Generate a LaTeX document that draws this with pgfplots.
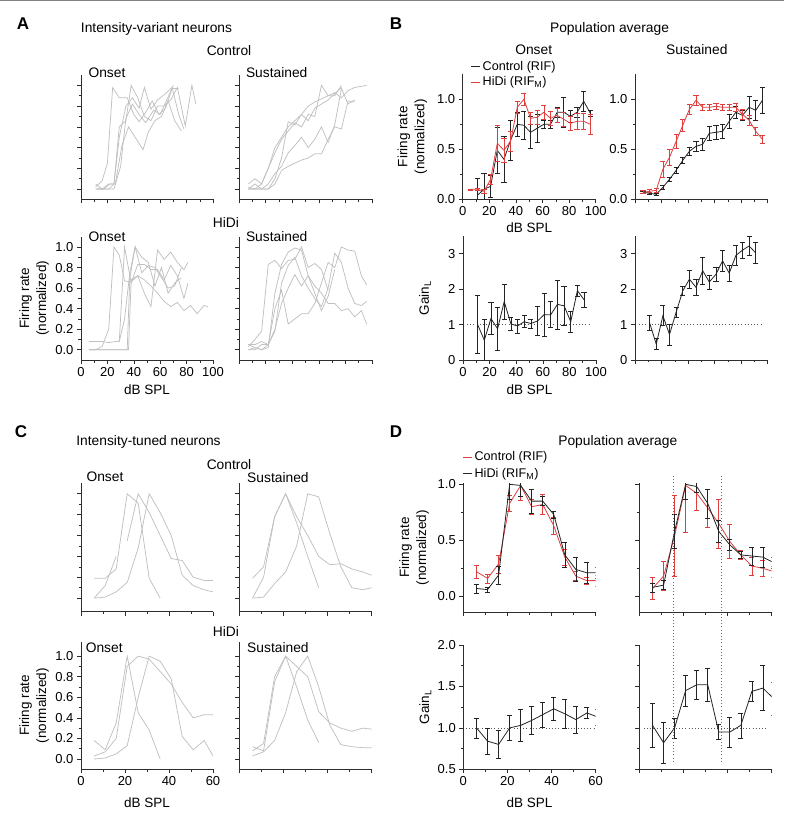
\documentclass[border=0pt]{standalone}
\usepackage{fontspec}
\setmainfont{Liberation Sans}
\usepackage{pgfplots}
\pgfplotsset{compat=1.18}

\definecolor{neuron}{RGB}{192,192,192}
\definecolor{ctrl}{RGB}{35,35,35}
\definecolor{hidi}{RGB}{222,62,62}
\definecolor{axgray}{RGB}{45,45,45}

\newcommand{\ttl}{\fontsize{13.8}{16}\selectfont}

\pgfplotsset{
  panel/.style={
    scale only axis, anchor=north west,
    axis x line*=bottom, axis y line*=left,
    axis line style={line width=0.7pt, axgray, -},
    tick align=outside,
    major tick length=4pt, minor tick length=2.5pt,
    every tick/.style={axgray, line width=0.6pt},
    tick label style={font=\fontsize{13}{13}\selectfont},
    /pgf/number format/assume math mode=true,
    label style={font=\fontsize{13.5}{17}\selectfont},
  },
  onedec/.style={yticklabel style={/pgf/number format/.cd, fixed, fixed zerofill, precision=1}},
  nolab/.style={xticklabels={}, yticklabels={}},
  gr/.style={draw=neuron, line width=0.75pt, mark=none},
  ebar/.style={error bars/.cd, y dir=both, y explicit,
    error bar style={line width=0.6pt, solid},
    error mark options={rotate=90, mark size=2.6pt, line width=0.6pt}},
  refline/.style={axgray!80, line width=0.6pt, dash pattern=on 1pt off 2.2pt, mark=none, forget plot},
  leg/.style={legend style={draw=none, fill=none, inner sep=0pt,
      font=\fontsize{12.6}{14}\selectfont, legend cell align=left},
    legend image code/.code={\draw[##1, line width=0.8pt] (0pt,0pt) -- (9pt,0pt);}},
}

\begin{document}
\begin{tikzpicture}
\useasboundingbox (0,0) rectangle (784pt,-818pt);
\draw[gray, line width=1.2pt] (0,-0.8pt) -- (784pt,-0.8pt);

% ---------------- text ----------------
\node[font=\fontsize{17}{17}\selectfont\bfseries] at (23pt,-24pt) {A};
\node[font=\fontsize{17}{17}\selectfont\bfseries] at (396pt,-24pt) {B};
\node[font=\fontsize{17}{17}\selectfont\bfseries] at (21pt,-432pt) {C};
\node[font=\fontsize{17}{17}\selectfont\bfseries] at (396pt,-432pt) {D};

\node[font=\ttl] at (156.5pt,-29pt) {Intensity-variant neurons};
\node[font=\ttl] at (229pt,-50.7pt) {Control};
\node[font=\ttl, anchor=west] at (85pt,-72.7pt) {Onset};
\node[font=\ttl, anchor=west] at (242.5pt,-72.7pt) {Sustained};
\node[font=\ttl] at (226pt,-222.7pt) {HiDi};
\node[font=\ttl, anchor=west] at (85pt,-236.7pt) {Onset};
\node[font=\ttl, anchor=west] at (242.5pt,-236.7pt) {Sustained};

\node[font=\ttl] at (609.5pt,-29pt) {Population average};
\node[font=\ttl] at (533.7pt,-50pt) {Onset};
\node[font=\ttl] at (696.8pt,-50pt) {Sustained};

\node[font=\ttl] at (148.5pt,-441.7pt) {Intensity-tuned neurons};
\node[font=\ttl] at (229pt,-464.3pt) {Control};
\node[font=\ttl, anchor=west] at (83pt,-476.7pt) {Onset};
\node[font=\ttl, anchor=west] at (243.7pt,-477.7pt) {Sustained};
\node[font=\ttl] at (226pt,-631.7pt) {HiDi};
\node[font=\ttl, anchor=west] at (82.3pt,-647.7pt) {Onset};
\node[font=\ttl, anchor=west] at (243.7pt,-647.7pt) {Sustained};

\node[font=\ttl] at (617.8pt,-441.7pt) {Population average};

% ---------------- A: intensity-variant, control onset ----------------
\begin{axis}[panel, nolab, at={(81pt,-75pt)}, width=132pt, height=124.5pt,
  xmin=0, xmax=100, ymin=-0.1, ymax=1.1,
  xtick={0,20,...,100}, minor x tick num=1,
  ytick={0,0.2,0.4,0.6,0.8,1.0}, minor y tick num=1]
\addplot[gr] coordinates {(11,0.02)(16,0.08)(20,0.25)(24,0.98)(29,0.88)(35,0.88)(40,0.72)(44,0.65)(49,0.74)(54,0.85)(59,0.72)(64,0.78)(69,0.97)(74,0.97)};
\addplot[gr] coordinates {(11,0.0)(16,0.0)(21,0.0)(25,0.05)(29,0.6)(34,0.66)(38,1.0)(43,0.88)(48,0.7)(53,0.66)(58,0.8)(63,0.8)(68,0.86)(73,0.98)(79,0.61)(84,1.0)(87,0.82)};
\addplot[gr] coordinates {(11,0.05)(16,0.0)(21,0.05)(25,0.05)(29,0.5)(34,0.8)(39,0.88)(44,0.78)(48,0.98)(53,0.77)(58,0.86)(64,0.92)(69,0.98)(74,0.72)(78,0.58)};
\addplot[gr] coordinates {(12,0.0)(17,0.0)(22,0.05)(26,0.05)(31,0.42)(36,0.6)(41,0.5)(47,0.38)(51,0.55)(56,0.66)(61,0.7)(66,0.85)(71,0.66)(76,0.56)};
\addplot[gr] coordinates {(11,0.0)(16,0.0)(21,0.0)(25,0.0)(30,0.22)(34,0.68)(39,0.82)(44,0.72)(49,0.64)(55,0.76)(60,0.72)(65,0.86)(70,1.0)};
\end{axis}

% ---------------- A: control sustained ----------------
\begin{axis}[panel, nolab, at={(239pt,-75pt)}, width=133pt, height=124.5pt,
  xmin=0, xmax=100, ymin=-0.1, ymax=1.1,
  xtick={0,20,...,100}, minor x tick num=1,
  ytick={0,0.2,0.4,0.6,0.8,1.0}, minor y tick num=1]
\addplot[gr] coordinates {(7,0.05)(12,0.1)(17,0.05)(22,0.2)(27,0.35)(32,0.48)(37,0.56)(42,0.64)(47,0.6)(52,0.72)(57,0.7)(62,1.0)(67,0.9)(72,0.9)(77,1.0)};
\addplot[gr] coordinates {(7,0.0)(12,0.05)(17,0.0)(22,0.0)(27,0.1)(32,0.3)(37,0.65)(42,0.62)(47,0.72)(52,0.66)(57,0.78)(62,0.82)(67,0.86)(72,0.92)(77,0.98)};
\addplot[gr] coordinates {(7,0.02)(12,0.0)(17,0.05)(22,0.2)(27,0.4)(32,0.5)(37,0.6)(42,0.66)(47,0.72)(52,0.8)(57,0.84)(62,0.87)(67,0.9)(72,0.93)(77,0.88)(82,0.95)(87,0.98)(96,1.0)};
\addplot[gr] coordinates {(7,0.0)(12,0.0)(17,0.0)(22,0.05)(27,0.15)(32,0.22)(37,0.35)(42,0.42)(47,0.5)(52,0.4)(57,0.48)(62,0.6)(67,0.45)(72,0.62)(77,0.97)(82,0.82)(87,0.86)};
\addplot[gr] coordinates {(7,0.0)(12,0.0)(17,0.0)(22,0.0)(27,0.05)(32,0.18)(37,0.22)(42,0.25)(47,0.28)(52,0.3)(57,0.34)(62,0.34)(67,0.48)(72,0.6)(77,0.58)(82,0.85)(87,0.84)};
\end{axis}

% ---------------- A: HiDi onset ----------------
\begin{axis}[panel, onedec, at={(81pt,-236.7pt)}, width=132pt, height=123.3pt,
  xmin=0, xmax=100, ymin=-0.1, ymax=1.1,
  xtick={0,20,...,100}, minor x tick num=1,
  ytick={0,0.2,0.4,0.6,0.8,1.0}, minor y tick num=1,
  xlabel={dB SPL}, ylabel={Firing rate\\(normalized)},
  xlabel style={at={(axis description cs:0.5,-0.243)}, anchor=center},
  ylabel style={align=center, at={(axis description cs:-0.356,0.5)}, anchor=center}]
\addplot[gr] coordinates {(6,0)(11,0)(16,0.03)(21,0.2)(25,1.0)(29,0.92)(33,0.67)(38,0.66)(43,0.72)(48,0.55)(53,0.42)(58,0.97)(63,0.88)(68,0.95)(73,0.85)(78,0.78)(81,0.85)};
\addplot[gr] coordinates {(6,0.08)(11,0.08)(16,0.08)(21,0.07)(26,0.08)(29,0.08)(33,1.0)(38,0.65)(43,0.83)(48,0.83)(53,0.78)(58,0.78)(63,0.68)(68,0.82)(73,0.72)(78,0.5)(81,0.65)};
\addplot[gr] coordinates {(6,0)(11,0)(16,0)(21,0)(26,0)(31,0)(35,0)(37,0.7)(41,1.0)(46,0.75)(51,0.82)(56,0.8)(61,0.7)(66,0.6)(71,0.62)(76,0.8)};
\addplot[gr] coordinates {(6,0)(11,0)(16,0)(21,0)(26,0)(31,0)(36,0)(38,0.68)(43,0.72)(48,0.68)(53,0.62)(58,0.55)(63,0.47)(68,0.42)(73,0.46)(78,0.38)(83,0.43)(88,0.35)(93,0.43)(96,0.42)};
\addplot[gr] coordinates {(29,0.08)(33,0.3)(37,0.75)(41,1.0)(46,0.9)(51,0.85)(56,0.62)(61,0.8)(66,0.55)(71,0.65)(76,0.7)};
\end{axis}

% ---------------- A: HiDi sustained ----------------
\begin{axis}[panel, nolab, at={(239pt,-236.7pt)}, width=133pt, height=123.3pt,
  xmin=0, xmax=100, ymin=-0.1, ymax=1.1,
  xtick={0,20,...,100}, minor x tick num=1,
  ytick={0,0.2,0.4,0.6,0.8,1.0}, minor y tick num=1]
\addplot[gr] coordinates {(7,0.0)(12,0.02)(17,0.0)(22,0.02)(27,0.55)(32,0.83)(37,0.95)(42,0.99)(47,0.97)(52,0.72)(57,0.62)(62,0.55)(67,0.45)(72,0.45)(77,0.38)(82,0.4)(87,0.32)(92,0.38)(96,0.25)};
\addplot[gr] coordinates {(7,0.05)(12,0.05)(17,0.08)(22,0.05)(27,0.18)(32,0.65)(37,0.82)(42,0.9)(47,0.72)(52,0.6)(57,0.5)(62,0.42)(67,0.6)(72,0.94)(77,0.85)(82,0.6)(87,0.45)(92,0.43)(96,0.47)};
\addplot[gr] coordinates {(7,0.03)(12,0.1)(17,0.18)(22,0.83)(27,0.87)(32,0.79)(37,0.87)(42,0.88)(47,1.0)(52,0.8)(57,0.84)(62,0.78)(67,0.58)};
\addplot[gr] coordinates {(7,0.0)(12,0.0)(17,0.05)(22,0.05)(27,0.4)(32,0.58)(37,0.25)(42,0.3)(47,0.35)(52,0.35)(57,0.45)(62,0.65)(67,0.85)(72,0.8)(77,1.0)(82,0.97)(87,0.96)(92,0.72)(96,0.63)};
\addplot[gr] coordinates {(7,0.05)(12,0.02)(17,0.0)(22,0.05)(27,0.2)(32,0.45)(37,0.6)(42,0.73)(47,0.62)(52,0.72)(57,0.55)(62,0.38)(67,0.52)(72,0.78)};
\end{axis}

% ---------------- B: population onset ----------------
\begin{axis}[panel, leg, at={(462.7pt,-74.3pt)}, width=133pt, height=125pt,
  xmin=0, xmax=100, ymin=0, ymax=1.25,
  xtick={0,20,...,100}, minor x tick num=1,
  ytick={0,0.5,1}, minor y tick num=1, onedec,
  xlabel={dB SPL}, ylabel={Firing rate\\(normalized)},
  xlabel style={at={(axis description cs:0.5,-0.224)}, anchor=center},
  ylabel style={align=center, at={(axis description cs:-0.378,0.5)}, anchor=center},
  legend style={at={(axis description cs:0.06,1.12)}, anchor=north west, row sep=0.5pt}]
\addlegendimage{ctrl}
\addlegendentry{Control (RIF)}
\addlegendimage{hidi}
\addlegendentry{HiDi (RIF\textsubscript{M})}
\addplot[ctrl, line width=0.8pt, mark=none, forget plot, ebar] coordinates {
(11,0.04) +- (0,0.17) (16,0.10) +- (0,0.16) (21,0.13) +- (0,0.11) (26,0.49) +- (0,0.23)
(31,0.40) +- (0,0.23) (36,0.59) +- (0,0.20) (41,0.75) +- (0,0.12) (46,0.74) +- (0,0.14)
(51,0.67) +- (0,0.16) (56,0.71) +- (0,0.14) (61,0.75) +- (0,0.04) (66,0.75) +- (0,0.04)
(71,0.87) +- (0,0.05) (76,0.87) +- (0,0.15) (81,0.83) +- (0,0.06) (86,0.87) +- (0,0.05)
(91,0.98) +- (0,0.10) (96,0.86) +- (0,0.03)};
\addplot[hidi, line width=0.8pt, mark=none, forget plot, ebar] coordinates {
(6,0.10) +- (0,0.005) (11,0.10) +- (0,0.01) (16,0.08) +- (0,0.02) (21,0.20) +- (0,0.05)
(26,0.56) +- (0,0.18) (31,0.49) +- (0,0.12) (36,0.58) +- (0,0.10) (41,0.92) +- (0,0.06)
(46,1.00) +- (0,0.06) (51,0.81) +- (0,0.06) (56,0.82) +- (0,0.07) (61,0.87) +- (0,0.07)
(66,0.81) +- (0,0.07) (71,0.84) +- (0,0.07) (76,0.80) +- (0,0.07) (81,0.76) +- (0,0.07)
(86,0.78) +- (0,0.08) (91,0.78) +- (0,0.08) (96,0.75) +- (0,0.10)};
\end{axis}

% ---------------- B: population sustained ----------------
\begin{axis}[panel, at={(635pt,-74.3pt)}, width=132.7pt, height=125pt,
  xmin=0, xmax=100, ymin=0, ymax=1.25,
  xtick={0,20,...,100}, minor x tick num=1, xticklabels={},
  ytick={0,0.5,1}, minor y tick num=1, onedec]
\addplot[ctrl, line width=0.8pt, mark=none, ebar] coordinates {
(6,0.07) +- (0,0.01) (11,0.06) +- (0,0.01) (16,0.05) +- (0,0.01) (21,0.12) +- (0,0.02)
(26,0.20) +- (0,0.02) (31,0.29) +- (0,0.03) (36,0.39) +- (0,0.03) (41,0.48) +- (0,0.04)
(46,0.53) +- (0,0.05) (51,0.55) +- (0,0.06) (56,0.66) +- (0,0.07) (61,0.67) +- (0,0.07)
(66,0.68) +- (0,0.07) (71,0.78) +- (0,0.07) (76,0.87) +- (0,0.06) (81,0.84) +- (0,0.05)
(86,0.92) +- (0,0.11) (91,0.89) +- (0,0.10) (96,0.99) +- (0,0.13)};
\addplot[hidi, line width=0.8pt, mark=none, ebar] coordinates {
(6,0.07) +- (0,0.015) (11,0.08) +- (0,0.015) (16,0.09) +- (0,0.02) (21,0.30) +- (0,0.08)
(26,0.42) +- (0,0.08) (31,0.58) +- (0,0.07) (36,0.74) +- (0,0.06) (41,0.90) +- (0,0.05)
(46,0.99) +- (0,0.05) (51,0.92) +- (0,0.03) (56,0.92) +- (0,0.03) (61,0.93) +- (0,0.03)
(66,0.92) +- (0,0.03) (71,0.92) +- (0,0.03) (76,0.92) +- (0,0.04) (81,0.85) +- (0,0.05)
(86,0.79) +- (0,0.05) (91,0.68) +- (0,0.04) (96,0.60) +- (0,0.04)};
\end{axis}

% ---------------- B: gain onset ----------------
\begin{axis}[panel, at={(463pt,-236pt)}, width=133pt, height=124pt,
  xmin=0, xmax=100, ymin=0, ymax=3.5,
  xtick={0,20,...,100}, minor x tick num=1, ytick={0,1,2,3},
  xlabel={dB SPL}, ylabel={Gain\textsubscript{L}},
  xlabel style={at={(axis description cs:0.5,-0.242)}, anchor=center},
  ylabel style={at={(axis description cs:-0.286,0.5)}, anchor=center}]
\addplot[refline] coordinates {(3,1)(95,1)};
\addplot[ctrl, line width=0.8pt, mark=none, ebar] coordinates {
(11,1.00) +- (0,0.82) (16,0.56) +- (0,0.60) (21,1.17) +- (0,0.45) (26,0.88) +- (0,0.62)
(31,1.65) +- (0,0.50) (36,1.02) +- (0,0.19) (41,0.96) +- (0,0.20) (46,1.08) +- (0,0.17)
(51,1.03) +- (0,0.13) (56,1.10) +- (0,0.41) (61,1.28) +- (0,0.61) (66,1.28) +- (0,0.37)
(71,1.57) +- (0,0.69) (76,1.53) +- (0,0.56) (81,1.08) +- (0,0.30) (86,1.96) +- (0,0.16)
(91,1.70) +- (0,0.22)};
\end{axis}

% ---------------- B: gain sustained ----------------
\begin{axis}[panel, at={(635pt,-236pt)}, width=132.7pt, height=124pt,
  xmin=0, xmax=100, ymin=0, ymax=3.5,
  xtick={0,20,...,100}, minor x tick num=1, xticklabels={}, ytick={0,1,2,3}]
\addplot[refline] coordinates {(3,1)(95,1)};
\addplot[ctrl, line width=0.8pt, mark=none, ebar] coordinates {
(11,1.05) +- (0,0.20) (16,0.45) +- (0,0.15) (21,1.25) +- (0,0.28) (26,0.72) +- (0,0.30)
(31,1.35) +- (0,0.15) (36,1.95) +- (0,0.13) (41,2.28) +- (0,0.25) (46,2.05) +- (0,0.22)
(51,2.52) +- (0,0.38) (56,2.20) +- (0,0.20) (61,2.42) +- (0,0.20) (66,2.80) +- (0,0.30)
(71,2.45) +- (0,0.22) (76,2.95) +- (0,0.28) (81,3.10) +- (0,0.22) (86,3.22) +- (0,0.27)
(91,3.02) +- (0,0.30)};
\end{axis}

% ---------------- C: intensity-tuned, control onset ----------------
\begin{axis}[panel, nolab, at={(81pt,-483.3pt)}, width=132pt, height=128.4pt,
  xmin=0, xmax=60, ymin=-0.13, ymax=1.1,
  xtick={0,20,40,60}, minor x tick num=1,
  ytick={0,0.2,0.4,0.6,0.8,1.0}, minor y tick num=1]
\addplot[gr] coordinates {(6,0.19)(11,0.19)(16,0.28)(21,1.0)(26,0.91)(31,0.19)(36,0.0)};
\addplot[gr] coordinates {(6,0.0)(11,0.12)(16,0.4)};
\addplot[gr] coordinates {(6,0.0)(11,0.01)(16,0.06)(21,0.15)(26,0.48)(31,1.0)(36,0.82)(41,0.6)(46,0.22)(51,0.12)(56,0.08)(60,0.06)};
\addplot[gr] coordinates {(21,0.55)(26,1.0)(31,0.82)(36,0.6)(41,0.38)(46,0.36)(51,0.2)(56,0.17)(60,0.17)};
\end{axis}

% ---------------- C: control sustained ----------------
\begin{axis}[panel, nolab, at={(239.3pt,-483.3pt)}, width=132.4pt, height=128.4pt,
  xmin=0, xmax=60, ymin=-0.13, ymax=1.1,
  xtick={0,20,40,60}, minor x tick num=1,
  ytick={0,0.2,0.4,0.6,0.8,1.0}, minor y tick num=1]
\addplot[gr] coordinates {(6,0.19)(11,0.3)(16,0.78)(21,1.0)(26,0.78)(31,0.6)(36,0.4)(41,0.32)(46,0.33)(51,0.28)(56,0.25)(60,0.22)};
\addplot[gr] coordinates {(6,0.0)(11,0.01)(16,0.14)(21,0.25)(26,0.5)(31,1.0)(36,0.97)(41,0.62)(46,0.3)(51,0.1)(56,0.08)(60,0.1)};
\addplot[gr] coordinates {(6,0.0)(11,0.2)(16,0.78)(21,1.0)(26,0.72)(31,0.4)(36,0.1)};
\end{axis}

% ---------------- C: HiDi onset ----------------
\begin{axis}[panel, onedec, at={(81pt,-641.7pt)}, width=132pt, height=127.6pt,
  xmin=0, xmax=60, ymin=-0.1, ymax=1.14,
  xtick={0,20,40,60}, minor x tick num=1,
  ytick={0,0.2,0.4,0.6,0.8,1.0}, minor y tick num=1,
  xlabel={dB SPL}, ylabel={Firing rate\\(normalized)},
  xlabel style={at={(axis description cs:0.5,-0.262)}, anchor=center},
  ylabel style={align=center, at={(axis description cs:-0.356,0.5)}, anchor=center}]
\addplot[gr] coordinates {(6,0.18)(11,0.09)(16,0.35)(21,1.0)(26,0.45)(31,0.28)(36,0.0)};
\addplot[gr] coordinates {(6,0.03)(11,0.07)(16,0.2)(21,0.9)(26,1.0)(31,0.97)(36,0.85)(41,0.73)(46,0.55)(51,0.4)(56,0.43)(60,0.43)};
\addplot[gr] coordinates {(6,0.0)(11,0.01)(16,0.05)(21,0.13)(26,0.6)(31,1.0)(36,0.95)(41,0.78)(46,0.22)(51,0.09)(56,0.18)(60,0.03)};
\end{axis}

% ---------------- C: HiDi sustained ----------------
\begin{axis}[panel, nolab, at={(239.3pt,-641.7pt)}, width=132.4pt, height=127.6pt,
  xmin=0, xmax=60, ymin=-0.1, ymax=1.14,
  xtick={0,20,40,60}, minor x tick num=1,
  ytick={0,0.2,0.4,0.6,0.8,1.0}, minor y tick num=1]
\addplot[gr] coordinates {(6,0.12)(11,0.08)(16,0.75)(21,1.0)(26,0.9)(31,0.8)(36,0.46)(41,0.35)(46,0.3)(51,0.27)(56,0.3)(60,0.29)};
\addplot[gr] coordinates {(6,0.08)(11,0.15)(16,0.8)(21,1.0)(26,0.7)(31,0.38)(36,0.16)};
\addplot[gr] coordinates {(6,0.03)(11,0.07)(16,0.18)(21,0.45)(26,0.85)(31,1.0)(36,0.7)(41,0.33)(46,0.14)(51,0.12)(56,0.11)(60,0.11)};
\end{axis}

% ---------------- D: population onset ----------------
\begin{axis}[panel, leg, at={(463.3pt,-483.2pt)}, width=132.4pt, height=128.8pt,
  xmin=0, xmax=60, ymin=-0.14, ymax=1.01,
  xtick={0,20,40,60}, minor x tick num=1, xticklabels={},
  ytick={0,0.5,1}, minor y tick num=1, onedec,
  ylabel={Firing rate\\(normalized)},
  ylabel style={align=center, at={(axis description cs:-0.372,0.5)}, anchor=center},
  legend style={at={(axis description cs:-0.005,1.262)}, anchor=north west, row sep=2pt}]
\addlegendimage{hidi}
\addlegendentry{Control (RIF)}
\addlegendimage{ctrl}
\addlegendentry{HiDi (RIF\textsubscript{M})}
\addplot[hidi, line width=0.8pt, mark=none, forget plot, ebar] coordinates {
(6,0.22) +- (0,0.06) (11,0.16) +- (0,0.04) (16,0.29) +- (0,0.08) (21,0.83) +- (0,0.07)
(26,0.99) +- (0,0.13) (31,0.80) +- (0,0.07) (36,0.82) +- (0,0.09) (41,0.63) +- (0,0.08)
(46,0.35) +- (0,0.07) (51,0.18) +- (0,0.04) (56,0.14) +- (0,0.03) (61,0.14) +- (0,0.05)};
\addplot[ctrl, line width=0.8pt, mark=none, forget plot, ebar] coordinates {
(6,0.07) +- (0,0.04) (11,0.06) +- (0,0.02) (16,0.19) +- (0,0.08) (21,1.00) +- (0,0.13)
(26,0.99) +- (0,0.10) (31,0.85) +- (0,0.11) (36,0.85) +- (0,0.04) (41,0.73) +- (0,0.03)
(46,0.37) +- (0,0.11) (51,0.24) +- (0,0.11) (56,0.21) +- (0,0.09) (61,0.21) +- (0,0.05)};
\end{axis}

% ---------------- D: population sustained ----------------
\begin{axis}[panel, nolab, at={(639.3pt,-483.2pt)}, width=132.4pt, height=128.8pt,
  xmin=0, xmax=60, ymin=-0.14, ymax=1.01,
  xtick={0,20,40,60}, minor x tick num=1,
  ytick={0,0.5,1}, minor y tick num=1]
\addplot[hidi, line width=0.8pt, mark=none, ebar] coordinates {
(6,0.07) +- (0,0.10) (11,0.18) +- (0,0.13) (16,0.54) +- (0,0.36) (21,0.99) +- (0,0.42)
(26,0.92) +- (0,0.15) (31,0.79) +- (0,0.17) (36,0.65) +- (0,0.22) (41,0.49) +- (0,0.15)
(46,0.37) +- (0,0.04) (51,0.27) +- (0,0.08) (56,0.25) +- (0,0.07) (61,0.22) +- (0,0.05)};
\addplot[ctrl, line width=0.8pt, mark=none, ebar] coordinates {
(6,0.08) +- (0,0.04) (11,0.10) +- (0,0.04) (16,0.58) +- (0,0.15) (21,1.00) +- (0,0.13)
(26,0.98) +- (0,0.05) (31,0.83) +- (0,0.13) (36,0.58) +- (0,0.10) (41,0.46) +- (0,0.05)
(46,0.37) +- (0,0.03) (51,0.36) +- (0,0.08) (56,0.35) +- (0,0.09) (61,0.30) +- (0,0.05)};
\end{axis}

% ---------------- D: gain onset ----------------
\begin{axis}[panel, at={(463.3pt,-645pt)}, width=132.4pt, height=124.3pt,
  xmin=0, xmax=60, ymin=0.5, ymax=2.0,
  xtick={0,20,40,60}, minor x tick num=1,
  ytick={0.5,1,1.5,2}, minor y tick num=1, onedec,
  xlabel={dB SPL}, ylabel={Gain\textsubscript{L}},
  xlabel style={at={(axis description cs:0.5,-0.269)}, anchor=center},
  ylabel style={at={(axis description cs:-0.287,0.5)}, anchor=center}]
\addplot[refline] coordinates {(1,1)(60,1)};
\addplot[ctrl, line width=0.8pt, mark=none, ebar] coordinates {
(6,1.00) +- (0,0.12) (11,0.84) +- (0,0.16) (16,0.80) +- (0,0.17) (21,1.00) +- (0,0.15)
(26,1.03) +- (0,0.19) (31,1.09) +- (0,0.17) (36,1.16) +- (0,0.15) (41,1.23) +- (0,0.14)
(46,1.17) +- (0,0.18) (51,1.10) +- (0,0.16) (56,1.18) +- (0,0.07) (61,1.13) +- (0,0.10)};
\end{axis}

% ---------------- D: gain sustained ----------------
\begin{axis}[panel, nolab, at={(639.3pt,-645pt)}, width=132.4pt, height=124.3pt,
  xmin=0, xmax=60, ymin=0.5, ymax=2.0,
  xtick={0,20,40,60}, minor x tick num=1,
  ytick={0.5,1,1.5,2}, minor y tick num=1]
\addplot[refline] coordinates {(2,1)(58,1)};
\addplot[ctrl, line width=0.8pt, mark=none, ebar] coordinates {
(6,1.03) +- (0,0.27) (11,0.82) +- (0,0.25) (16,1.00) +- (0,0.12) (21,1.45) +- (0,0.19)
(26,1.52) +- (0,0.17) (31,1.52) +- (0,0.20) (36,0.95) +- (0,0.09) (41,0.95) +- (0,0.18)
(46,1.03) +- (0,0.15) (51,1.44) +- (0,0.12) (56,1.48) +- (0,0.27) (61,1.35) +- (0,0.20)};
\end{axis}

% threshold markers spanning both sustained panels of D
\begin{axis}[scale only axis, anchor=north west, hide axis, clip=false,
  at={(639.3pt,-645pt)}, width=132.4pt, height=124.3pt,
  xmin=0, xmax=60, ymin=0.5, ymax=2.0]
\addplot[axgray!70, line width=0.6pt, dash pattern=on 1pt off 2.2pt, mark=none] coordinates {(15.6,0.59)(15.6,4.05)};
\addplot[axgray!70, line width=0.6pt, dash pattern=on 1pt off 2.2pt, mark=none] coordinates {(37,0.59)(37,4.05)};
\end{axis}
\end{tikzpicture}
\end{document}
